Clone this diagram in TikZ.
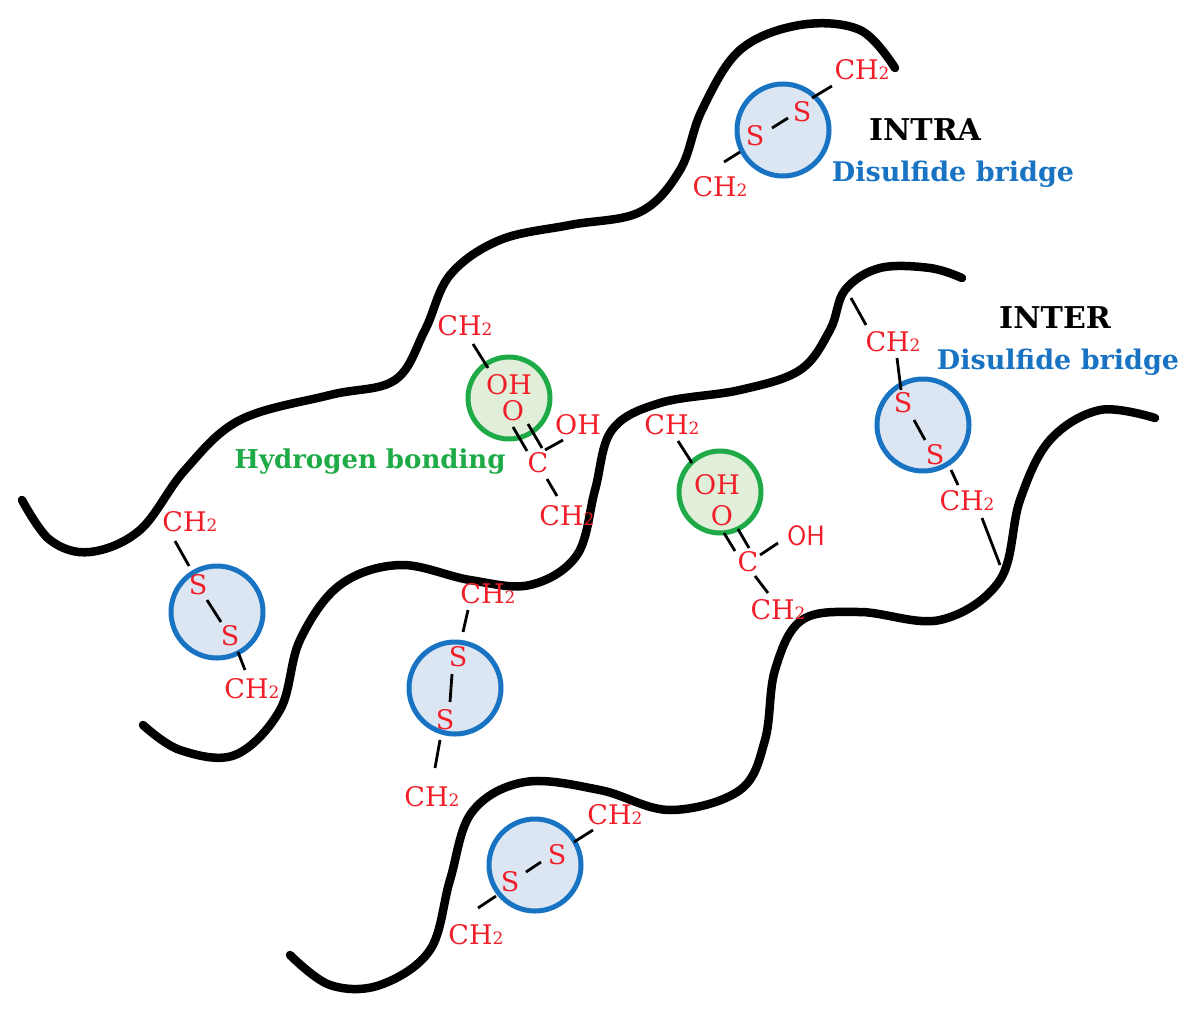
\documentclass[tikz,border=0pt]{standalone}
\usepackage{fontspec}
\setmainfont{DejaVu Serif}
\definecolor{bblue}{RGB}{25,115,195}
\definecolor{bfill}{RGB}{220,230,242}
\definecolor{ggreen}{RGB}{30,170,70}
\definecolor{gfill}{RGB}{225,238,218}
\definecolor{rred}{RGB}{240,30,40}
\begin{document}
\begin{tikzpicture}[x=1pt,y=-1pt,
 chain/.style={line width=8.5pt,line cap=round},
 bond/.style={line width=2.8pt},
 lab/.style={text=rred,font=\fontsize{27}{27}\selectfont,inner sep=0pt},
 bb/.style={circle,draw=bblue,line width=5pt,fill=bfill,minimum size=92pt,inner sep=0pt},
 gb/.style={circle,draw=ggreen,line width=5pt,fill=gfill,minimum size=82pt,inner sep=0pt}]
\useasboundingbox (0,0) rectangle (1193,1009);
\newcommand{\chtwo}{CH{\fontsize{17}{17}\selectfont 2}}
% circles
\node[bb] (c1) at (783,130) {};
\node[bb] (c2) at (923,425) {};
\node[bb] (c3) at (217,612) {};
\node[bb] (c4) at (455,688) {};
\node[bb] (c5) at (535,865) {};
\node[gb] (g1) at (509,398) {};
\node[gb] (g2) at (720,492) {};
% chains
\draw[chain] plot[smooth,tension=0.6] coordinates {(22,500) (50,540) (90,552) (140,530) (185,470) (240,420) (330,395) (395,380) (425,330) (450,275) (500,240) (570,225) (640,212) (680,170) (702,110) (740,50) (800,25) (860,30) (895,68)};
\draw[chain] plot[smooth,tension=0.6] coordinates {(143,725) (180,750) (235,755) (280,710) (300,640) (340,585) (400,565) (470,580) (530,585) (577,555) (595,490) (612,430) (660,403) (740,390) (800,370) (830,330) (845,290) (880,268) (930,268) (962,278)};
\draw[chain] plot[smooth,tension=0.6] coordinates {(290,955) (330,985) (380,985) (430,950) (450,880) (472,812) (525,782) (600,790) (670,810) (740,790) (765,740) (775,670) (802,620) (860,612) (940,620) (1000,580) (1020,500) (1050,440) (1100,410) (1155,418)};
% intra
\node[lab] (a1) at (862,70) {\chtwo};
\node[lab] (a2) at (802,112) {S};
\node[lab] (a3) at (755,136) {S};
\node[lab] (a4) at (720,187) {\chtwo};
\draw[bond] (832,86) -- (812,98) (772,128) -- (788,118) (740,152) -- (724,162);
\node[font=\fontsize{30}{30}\selectfont\bfseries] (t1) at (925,130) {INTRA};
\node[font=\fontsize{27}{27}\selectfont\bfseries,text=bblue] (t2) at (953,174) {Disulfide bridge};
\node[font=\fontsize{30}{30}\selectfont\bfseries] (t3) at (1055,318) {INTER};
\node[font=\fontsize{27}{27}\selectfont\bfseries,text=bblue] (t4) at (1058,362) {Disulfide bridge};
% inter right
\node[lab] (b1) at (893,342) {\chtwo};
\node[lab] (b2) at (903,403) {S};
\node[lab] (b3) at (935,455) {S};
\node[lab] (b4) at (967,501) {\chtwo};
\draw[bond] (851,298) -- (866,325) (897,358) -- (901,390) (914,420) -- (925,440) (951,470) -- (958,485) (982,518) -- (1000,565);
% left
\node[lab] (d1) at (190,522) {\chtwo};
\node[lab] (d2) at (198,585) {S};
\node[lab] (d3) at (230,636) {S};
\node[lab] (d4) at (252,689) {\chtwo};
\draw[bond] (175,541) -- (189,566) (207,600) -- (221,622) (238,652) -- (245,670);
% middle
\node[lab] (e1) at (488,594) {\chtwo};
\node[lab] (e2) at (458,657) {S};
\node[lab] (e3) at (445,720) {S};
\node[lab] (e4) at (432,797) {\chtwo};
\draw[bond] (468,610) -- (463,632) (452,674) -- (450,702) (440,740) -- (435,768);
% bottom
\node[lab] (f1) at (615,815) {\chtwo};
\node[lab] (f2) at (557,855) {S};
\node[lab] (f3) at (510,882) {S};
\node[lab] (f4) at (476,935) {\chtwo};
\draw[bond] (593,830) -- (574,842) (541,862) -- (526,872) (496,896) -- (478,908);
% hydrogen 1
\node[lab] (h1) at (465,326) {\chtwo};
\node[lab] (h2) at (509,385) {OH};
\node[lab] (h3) at (513,411) {O};
\node[lab] (h4) at (578,425) {OH};
\node[lab] (h5) at (538,463) {C};
\node[lab] (h6) at (567,516) {\chtwo};
\draw[bond] (473,344) -- (488,368) (513,427) -- (527,451) (528,424) -- (542,448) (545,450) -- (563,440) (547,479) -- (557,496);
\node[font=\fontsize{26}{26}\selectfont\bfseries,text=ggreen] (hb) at (370,462) {Hydrogen bonding};
% hydrogen 2
\node[lab] (k1) at (672,425) {\chtwo};
\node[lab] (k2) at (717,485) {OH};
\node[lab] (k3) at (722,516) {O};
\node[lab] (k4) at (748,562) {C};
\node[lab,font=\fontsize{28}{28}\selectfont\sffamily] (k5) at (806,536) {OH};
\node[lab] (k6) at (778,610) {\chtwo};
\draw[bond] (678,441) -- (692,463) (724,533) -- (735,551) (738,529) -- (749,548) (760,555) -- (778,543) (755,576) -- (768,593);
\end{tikzpicture}
\end{document}
